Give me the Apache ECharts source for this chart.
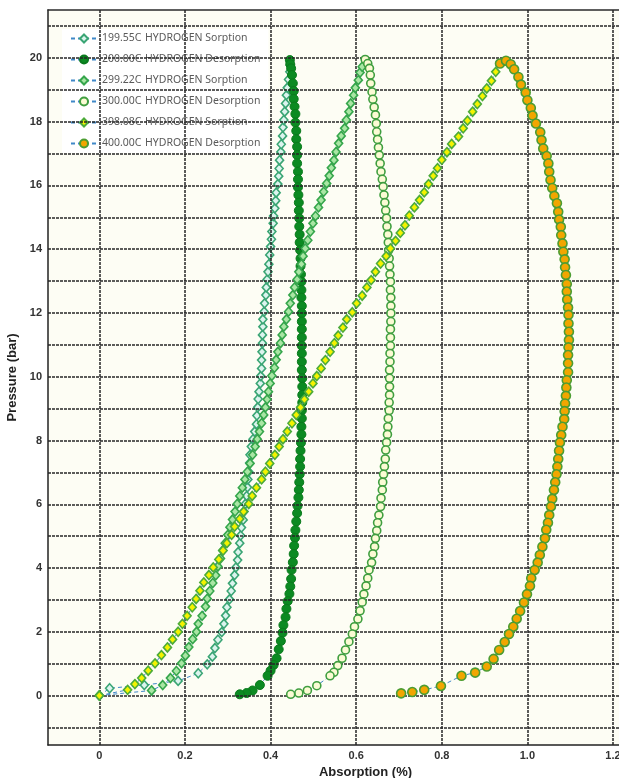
<!DOCTYPE html>
<html>
<head>
<meta charset="utf-8">
<script src="https://cdn.jsdelivr.net/npm/echarts@6/dist/echarts.min.js"></script>
<style>
  html, body { margin: 0; padding: 0; background: #ffffff; }
  #chart { width: 619px; height: 778px; }
</style>
</head>
<body>
<div id="chart"></div>
<script>
// Series labels
const temperatures = ['199.55C', '200.00C', '299.22C', '300.00C', '398.08C', '400.00C'];
const runTypes = ['HYDROGEN Sorption', 'HYDROGEN Desorption', 'HYDROGEN Sorption',
                  'HYDROGEN Desorption', 'HYDROGEN Sorption', 'HYDROGEN Desorption'];

// Each point: [absorption (%), pressure (bar)], in measurement order
const sorption199 = [
  [0, 0], [0.024, 0.23], [0.105, 0.33], [0.184, 0.46], [0.231, 0.70], [0.252, 0.98],
  [0.264, 1.22], [0.270, 1.49], [0.277, 1.75], [0.286, 1.99], [0.291, 2.25], [0.295, 2.51],
  [0.298, 2.77], [0.304, 3.02], [0.308, 3.28], [0.311, 3.52], [0.316, 3.78], [0.319, 4.02],
  [0.323, 4.25], [0.324, 4.50], [0.328, 4.78], [0.330, 5.02], [0.332, 5.27], [0.336, 5.51],
  [0.338, 5.77], [0.341, 6.01], [0.344, 6.26], [0.346, 6.53], [0.347, 6.78], [0.349, 7.02],
  [0.351, 7.29], [0.352, 7.55], [0.355, 7.81], [0.359, 8.04], [0.363, 8.28], [0.367, 8.51],
  [0.368, 8.78], [0.370, 9.04], [0.371, 9.30], [0.373, 9.53], [0.376, 9.79], [0.377, 10.02],
  [0.379, 10.26], [0.379, 10.52], [0.380, 10.78], [0.381, 11.05], [0.381, 11.31], [0.382, 11.57],
  [0.382, 11.80], [0.385, 12.04], [0.386, 12.30], [0.389, 12.56], [0.390, 12.80], [0.392, 13.05],
  [0.394, 13.29], [0.396, 13.53], [0.398, 13.82], [0.400, 14.08], [0.402, 14.31], [0.403, 14.55],
  [0.406, 14.81], [0.407, 15.04], [0.410, 15.28], [0.412, 15.52], [0.413, 15.77], [0.417, 16.04],
  [0.419, 16.29], [0.420, 16.53], [0.421, 16.79], [0.424, 17.05], [0.425, 17.29], [0.428, 17.55],
  [0.429, 17.82], [0.431, 18.05], [0.433, 18.31], [0.435, 18.57], [0.437, 18.83], [0.439, 19.06],
  [0.442, 19.32], [0.445, 19.56], [0.446, 19.77]
];

const desorption200 = [
  [0.445, 19.93], [0.446, 19.80], [0.448, 19.67], [0.450, 19.46], [0.452, 19.20], [0.454, 18.96],
  [0.454, 18.71], [0.456, 18.47], [0.458, 18.24], [0.458, 17.97], [0.460, 17.71], [0.460, 17.45],
  [0.462, 17.21], [0.462, 16.95], [0.462, 16.69], [0.464, 16.43], [0.464, 16.19], [0.464, 15.94],
  [0.465, 15.70], [0.466, 15.46], [0.466, 15.21], [0.467, 14.97], [0.467, 14.71], [0.468, 14.46],
  [0.468, 14.21], [0.469, 13.97], [0.470, 13.71], [0.470, 13.47], [0.471, 13.21], [0.472, 12.98],
  [0.472, 12.72], [0.472, 12.48], [0.473, 12.22], [0.473, 11.99], [0.473, 11.73], [0.473, 11.49],
  [0.473, 11.23], [0.473, 10.97], [0.473, 10.73], [0.473, 10.47], [0.473, 10.21], [0.474, 9.95],
  [0.474, 9.69], [0.474, 9.43], [0.474, 9.19], [0.473, 8.94], [0.473, 8.69], [0.472, 8.43],
  [0.472, 8.19], [0.471, 7.93], [0.470, 7.68], [0.469, 7.42], [0.469, 7.18], [0.468, 6.94],
  [0.467, 6.69], [0.466, 6.45], [0.465, 6.21], [0.463, 5.95], [0.462, 5.72], [0.460, 5.46],
  [0.458, 5.19], [0.457, 4.95], [0.455, 4.70], [0.454, 4.44], [0.452, 4.18], [0.449, 3.94],
  [0.448, 3.66], [0.446, 3.42], [0.444, 3.19], [0.440, 2.96], [0.437, 2.72], [0.435, 2.46],
  [0.430, 2.21], [0.428, 1.97], [0.424, 1.71], [0.419, 1.45], [0.414, 1.17], [0.407, 0.96],
  [0.400, 0.78], [0.393, 0.62], [0.375, 0.33], [0.358, 0.16], [0.344, 0.08], [0.328, 0.04]
];

const sorption299 = [
  [0, 0], [0.122, 0.16], [0.148, 0.33], [0.166, 0.55], [0.180, 0.77], [0.192, 1.01],
  [0.201, 1.25], [0.209, 1.52], [0.218, 1.77], [0.227, 2.00], [0.231, 2.25], [0.240, 2.50],
  [0.248, 2.79], [0.252, 3.04], [0.258, 3.28], [0.265, 3.53], [0.272, 3.77], [0.277, 4.05],
  [0.283, 4.30], [0.288, 4.55], [0.294, 4.78], [0.300, 5.04], [0.305, 5.28], [0.311, 5.52],
  [0.317, 5.77], [0.322, 6.01], [0.328, 6.26], [0.334, 6.52], [0.340, 6.78], [0.346, 7.02],
  [0.352, 7.28], [0.358, 7.55], [0.364, 7.81], [0.369, 8.04], [0.374, 8.28], [0.379, 8.54],
  [0.384, 8.80], [0.388, 9.04], [0.392, 9.29], [0.395, 9.53], [0.399, 9.79], [0.403, 10.03],
  [0.409, 10.28], [0.413, 10.53], [0.417, 10.78], [0.423, 11.05], [0.427, 11.31], [0.431, 11.57],
  [0.437, 11.80], [0.442, 12.04], [0.446, 12.30], [0.452, 12.56], [0.456, 12.80], [0.462, 13.05],
  [0.466, 13.29], [0.472, 13.53], [0.476, 13.78], [0.481, 14.02], [0.487, 14.28], [0.493, 14.55],
  [0.499, 14.81], [0.505, 15.04], [0.512, 15.31], [0.518, 15.54], [0.524, 15.80], [0.531, 16.06],
  [0.537, 16.30], [0.542, 16.55], [0.548, 16.79], [0.553, 17.05], [0.559, 17.32], [0.565, 17.55],
  [0.573, 17.79], [0.577, 18.05], [0.583, 18.31], [0.587, 18.57], [0.594, 18.83], [0.598, 19.06],
  [0.605, 19.30], [0.609, 19.54], [0.614, 19.72]
];

const desorption300 = [
  [0.621, 19.95], [0.627, 19.82], [0.631, 19.67], [0.633, 19.46], [0.634, 19.20], [0.637, 18.93],
  [0.639, 18.70], [0.642, 18.45], [0.645, 18.21], [0.647, 17.94], [0.648, 17.68], [0.650, 17.44],
  [0.652, 17.19], [0.654, 16.95], [0.656, 16.69], [0.658, 16.43], [0.661, 16.19], [0.663, 15.96],
  [0.665, 15.70], [0.667, 15.46], [0.669, 15.21], [0.671, 14.97], [0.672, 14.71], [0.674, 14.46],
  [0.675, 14.21], [0.676, 13.97], [0.677, 13.71], [0.678, 13.47], [0.679, 13.21], [0.680, 12.98],
  [0.680, 12.72], [0.681, 12.48], [0.681, 12.22], [0.681, 11.99], [0.681, 11.73], [0.680, 11.49],
  [0.680, 11.23], [0.680, 10.97], [0.679, 10.73], [0.679, 10.47], [0.678, 10.21], [0.678, 9.95],
  [0.678, 9.69], [0.678, 9.43], [0.677, 9.19], [0.677, 8.94], [0.675, 8.69], [0.674, 8.43],
  [0.673, 8.19], [0.671, 7.94], [0.669, 7.70], [0.668, 7.42], [0.666, 7.18], [0.664, 6.94],
  [0.662, 6.69], [0.661, 6.45], [0.658, 6.19], [0.657, 5.93], [0.653, 5.66], [0.650, 5.42],
  [0.648, 5.17], [0.645, 4.93], [0.643, 4.67], [0.639, 4.44], [0.636, 4.17], [0.630, 3.94],
  [0.627, 3.68], [0.623, 3.44], [0.618, 3.18], [0.614, 2.93], [0.609, 2.66], [0.604, 2.40],
  [0.596, 2.16], [0.591, 1.93], [0.583, 1.69], [0.575, 1.43], [0.567, 1.17], [0.557, 0.94],
  [0.548, 0.73], [0.539, 0.62], [0.508, 0.31], [0.486, 0.16], [0.466, 0.08], [0.447, 0.04]
];

const sorption398 = [
  [0, 0], [0.066, 0.18], [0.083, 0.36], [0.099, 0.55], [0.114, 0.78], [0.130, 1.01],
  [0.145, 1.27], [0.159, 1.51], [0.171, 1.76], [0.184, 2.00], [0.194, 2.25], [0.205, 2.50],
  [0.217, 2.77], [0.226, 3.03], [0.235, 3.29], [0.244, 3.55], [0.256, 3.78], [0.266, 4.02],
  [0.279, 4.27], [0.289, 4.55], [0.298, 4.78], [0.309, 5.04], [0.316, 5.30], [0.328, 5.54],
  [0.337, 5.77], [0.349, 6.01], [0.357, 6.26], [0.367, 6.52], [0.379, 6.78], [0.388, 7.02],
  [0.398, 7.28], [0.410, 7.55], [0.420, 7.81], [0.429, 8.04], [0.439, 8.28], [0.450, 8.54],
  [0.460, 8.80], [0.470, 9.04], [0.479, 9.29], [0.489, 9.53], [0.499, 9.79], [0.508, 10.02],
  [0.518, 10.26], [0.528, 10.52], [0.539, 10.78], [0.549, 11.05], [0.558, 11.29], [0.569, 11.54],
  [0.578, 11.80], [0.591, 12.02], [0.601, 12.30], [0.614, 12.54], [0.625, 12.80], [0.635, 13.03],
  [0.645, 13.29], [0.657, 13.55], [0.670, 13.78], [0.680, 14.02], [0.692, 14.26], [0.703, 14.51],
  [0.714, 14.75], [0.724, 15.05], [0.736, 15.31], [0.748, 15.54], [0.759, 15.78], [0.769, 16.04],
  [0.780, 16.30], [0.790, 16.54], [0.800, 16.80], [0.812, 17.04], [0.823, 17.30], [0.839, 17.53],
  [0.850, 17.79], [0.860, 18.03], [0.872, 18.31], [0.883, 18.55], [0.895, 18.80], [0.905, 19.04],
  [0.916, 19.28], [0.926, 19.56]
];

const desorption400 = [
  [0.936, 19.82], [0.950, 19.91], [0.961, 19.80], [0.969, 19.64], [0.979, 19.40], [0.985, 19.16],
  [0.996, 18.91], [1.000, 18.67], [1.008, 18.43], [1.012, 18.19], [1.020, 17.94], [1.030, 17.67],
  [1.033, 17.42], [1.037, 17.16], [1.045, 16.92], [1.049, 16.69], [1.051, 16.43], [1.054, 16.17],
  [1.058, 15.92], [1.063, 15.67], [1.069, 15.44], [1.072, 15.17], [1.074, 14.93], [1.078, 14.70],
  [1.079, 14.44], [1.082, 14.18], [1.084, 13.92], [1.087, 13.68], [1.088, 13.43], [1.090, 13.19],
  [1.092, 12.91], [1.092, 12.67], [1.093, 12.42], [1.095, 12.17], [1.096, 11.94], [1.096, 11.67],
  [1.097, 11.41], [1.097, 11.15], [1.096, 10.92], [1.095, 10.68], [1.095, 10.42], [1.095, 10.14],
  [1.092, 9.89], [1.091, 9.66], [1.090, 9.40], [1.088, 9.16], [1.087, 8.92], [1.086, 8.67],
  [1.082, 8.43], [1.079, 8.17], [1.076, 7.94], [1.074, 7.68], [1.072, 7.42], [1.070, 7.18],
  [1.068, 6.94], [1.065, 6.69], [1.062, 6.45], [1.058, 6.17], [1.055, 5.93], [1.051, 5.66],
  [1.048, 5.42], [1.044, 5.20], [1.041, 4.93], [1.035, 4.67], [1.029, 4.41], [1.024, 4.17],
  [1.017, 3.94], [1.009, 3.68], [1.006, 3.44], [0.999, 3.18], [0.992, 2.92], [0.983, 2.65],
  [0.975, 2.41], [0.967, 2.16], [0.957, 1.93], [0.947, 1.68], [0.934, 1.43], [0.921, 1.15],
  [0.905, 0.91], [0.878, 0.72], [0.846, 0.62], [0.798, 0.30], [0.759, 0.18], [0.731, 0.11],
  [0.705, 0.07]
];

// Axis ticks and grid positions
const xTickValues = [0, 0.2, 0.4, 0.6, 0.8, 1.0, 1.2];
const xTickLabels = ['0', '0.2', '0.4', '0.6', '0.8', '1.0', '1.2'];
const yTickValues = [0, 2, 4, 6, 8, 10, 12, 14, 16, 18, 20];
const yGridValues = [-1, 0, 1, 2, 3, 4, 5, 6, 7, 8, 9, 10, 11, 12, 13, 14, 15, 16, 17, 18, 19, 20, 21];

const seriesData = [sorption199, desorption200, sorption299, desorption300, sorption398, desorption400];
const names = temperatures.map((t, i) => t + ' ' + runTypes[i]);

// marker look per run: [symbol, size, fill, border, borderWidth]
const markerStyles = [
  ['diamond', [8, 9], '#dcf4ee', '#3aa574', 1.6],
  ['circle', 9, '#0c8a22', '#0a7a1c', 1],
  ['diamond', [8, 9], '#a9e6a4', '#36a64c', 1.6],
  ['circle', 8, '#fbfbd4', '#3f9e3f', 1.6],
  ['diamond', [8, 9], '#f3f300', '#4dab3a', 1.6],
  ['circle', 9, '#f1a600', '#4c9d32', 1.6]
];

const dataSeries = seriesData.map((data, i) => {
  const [symbol, size, fill, border, bw] = markerStyles[i];
  return {
    name: names[i],
    type: 'line',
    data: data,
    symbol: symbol,
    symbolSize: size,
    showAllSymbol: true,
    lineStyle: { color: '#3f88c8', width: 1, type: [4, 3] },
    itemStyle: { color: fill, borderColor: border, borderWidth: bw },
    emphasis: { disabled: true },
    z: 3 + i
  };
});

const gridLineStyle = { color: '#262626', width: 1.5, type: [3, 1] };

// Grid lines drawn as mark lines on an empty helper series
const gridSeries = {
  name: 'grid',
  type: 'line',
  data: [],
  silent: true,
  z: 1,
  markLine: {
    silent: true,
    symbol: ['none', 'none'],
    label: { show: false },
    lineStyle: gridLineStyle,
    emphasis: { disabled: true },
    animation: false,
    data: yGridValues.map(v => ({ yAxis: v })).concat(xTickValues.map(v => ({ xAxis: v })))
  }
};

const axisFont = 'Liberation Sans, Arial, sans-serif';
const legendFont = 'Noto Sans, sans-serif';
const xMin = -0.12, xMax = 1.214;

const chart = echarts.init(document.getElementById('chart'), null, { renderer: 'canvas' });
chart.setOption({
  animation: false,
  backgroundColor: '#ffffff',
  grid: {
    left: 48, right: 0, top: 10, bottom: 33,
    outerBoundsMode: 'none',
    containLabel: false,
    show: true,
    backgroundColor: '#fdfdf4',
    borderWidth: 0
  },
  xAxis: [{
    type: 'value',
    min: xMin,
    max: xMax,
    splitLine: { show: false },
    axisTick: { show: false },
    axisLine: { show: true, onZero: false, lineStyle: { color: '#222', width: 1.5 } },
    axisLabel: {
      customValues: xTickValues,
      formatter: v => xTickLabels[xTickValues.findIndex(t => Math.abs(t - v) < 1e-6)],
      color: '#333',
      fontFamily: axisFont,
      fontWeight: 'bold',
      fontSize: 11,
      margin: 5
    },
    name: 'Absorption (%)',
    nameLocation: 'middle',
    nameGap: 19,
    nameTextStyle: {
      color: '#222',
      fontFamily: axisFont,
      fontWeight: 'bold',
      fontSize: 13,
      padding: [0, 0, 0, 64]
    }
  }, {
    // top frame edge
    type: 'value',
    position: 'top',
    min: xMin,
    max: xMax,
    splitLine: { show: false },
    axisTick: { show: false },
    axisLabel: { show: false },
    axisLine: { show: true, onZero: false, lineStyle: { color: '#2a2a2a', width: 1.5 } }
  }],
  yAxis: {
    type: 'value',
    min: -1.55,
    max: 21.5,
    splitLine: { show: false },
    axisTick: { show: false },
    axisLine: { show: true, onZero: false, lineStyle: { color: '#222', width: 1.5 } },
    axisLabel: {
      customValues: yTickValues,
      color: '#333',
      fontFamily: axisFont,
      fontWeight: 'bold',
      fontSize: 11,
      margin: 6
    },
    name: 'Pressure (bar)',
    nameLocation: 'middle',
    nameGap: 24,
    nameTextStyle: {
      color: '#222',
      fontFamily: axisFont,
      fontWeight: 'bold',
      fontSize: 13
    }
  },
  legend: {
    data: names,
    orient: 'vertical',
    left: 62,
    top: 29,
    itemWidth: 26,
    itemHeight: 10,
    itemGap: 10,
    padding: [4, 8, 4, 8],
    backgroundColor: '#ffffff',
    selectedMode: false,
    textStyle: {
      color: '#5a5a5a',
      fontFamily: legendFont,
      fontSize: 10.5,
      rich: {
        t: { width: 43, color: '#5a5a5a', fontFamily: legendFont, fontSize: 10.5 },
        r: { color: '#5a5a5a', fontFamily: legendFont, fontSize: 10.5 }
      }
    },
    formatter: name => {
      const i = name.indexOf(' ');
      return '{t|' + name.slice(0, i) + '}{r|' + name.slice(i + 1) + '}';
    }
  },
  series: [gridSeries].concat(dataSeries)
});
</script>
</body>
</html>
